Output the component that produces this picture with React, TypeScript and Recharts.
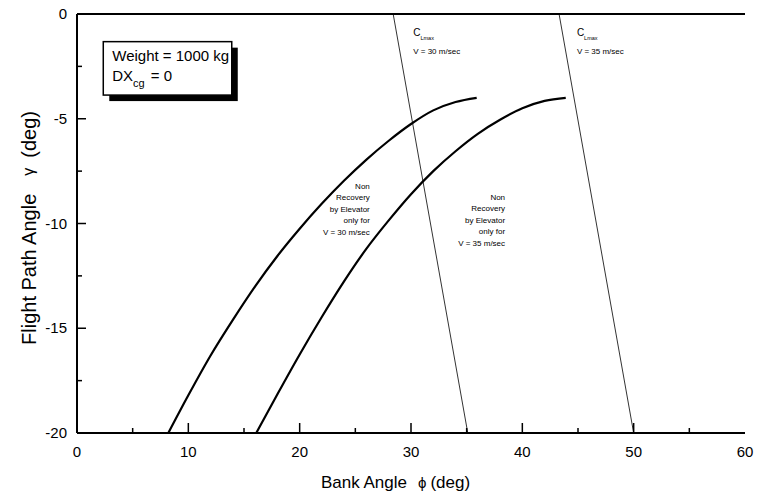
import React from "react";
import { ComposedChart, Line, XAxis, YAxis, ReferenceArea, ReferenceDot } from "recharts";

const FONT = '"Liberation Sans", Arial, Helvetica, sans-serif';

// bank angle ticks (deg); labels only on the tens
const bankTicks = [0, 5, 10, 15, 20, 25, 30, 35, 40, 45, 50, 55, 60];
// flight path angle ticks (deg); labels only on multiples of 5
const gammaTicks = [-20, -17.5, -15, -12.5, -10, -7.5, -5, -2.5, 0];

// non recovery boundary, V = 30 m/sec
const bankV30 = [8.2, 10, 12, 14, 16, 18, 20, 22, 24, 26, 28, 30, 32, 34, 35.9];
const gammaV30 = [-20, -18.2, -16.3, -14.6, -13.0, -11.55, -10.25, -9.05, -7.95, -6.95, -6.05, -5.25, -4.6, -4.2, -4.0];

// non recovery boundary, V = 35 m/sec
const bankV35 = [16.1, 18, 20, 22, 24, 26, 28, 30, 32, 34, 36, 38, 40, 42, 43.9];
const gammaV35 = [-20, -18.15, -16.25, -14.45, -12.75, -11.2, -9.85, -8.6, -7.5, -6.55, -5.72, -5.05, -4.5, -4.15, -4.0];

// CLmax limit lines
const clmaxBankV30 = [28.4, 35.1];
const clmaxBankV35 = [43.3, 50.0];
const clmaxGamma = [0, -20];

const noteV30 = ["Non", "Recovery", "by Elevator", "only for", "V = 30 m/sec"];
const noteV35 = ["Non", "Recovery", "by Elevator", "only for", "V = 35 m/sec"];

const toPts = (xs: number[], ys: number[]) => xs.map((x, i) => ({ bank: x, gamma: ys[i] }));

const curve30 = toPts(bankV30, gammaV30);
const curve35 = toPts(bankV35, gammaV35);
const limit30 = toPts(clmaxBankV30, clmaxGamma);
const limit35 = toPts(clmaxBankV35, clmaxGamma);

// ticks point into the plot, like the original
const BottomTick = (props: any) => {
  const { x, y, payload } = props;
  const major = payload.value % 10 === 0;
  const len = major ? 10 : 5;
  return (
    <g>
      {payload.value !== 0 && payload.value !== 60 && (
        <rect x={x - 0.75} y={y - len} width={1.5} height={len} fill="#000" />
      )}
      {major && (
        <text x={x} y={y + 24} textAnchor="middle" fontSize={15} fontFamily={FONT} fill="#000">
          {payload.value}
        </text>
      )}
    </g>
  );
};

const TopTick = (props: any) => {
  const { x, y, payload } = props;
  const major = payload.value % 10 === 0;
  const len = major ? 9 : 5;
  if (payload.value === 0 || payload.value === 60) return <g />;
  return <rect x={x - 0.75} y={y} width={1.5} height={len} fill="#000" />;
};

const LeftTick = (props: any) => {
  const { x, y, payload } = props;
  const major = payload.value % 5 === 0;
  const len = major ? 9 : 5;
  return (
    <g>
      {payload.value !== 0 && payload.value !== -20 && (
        <rect x={x} y={y - 0.75} width={len} height={1.5} fill="#000" />
      )}
      {major && (
        <text x={x - 10} y={y + 5} textAnchor="end" fontSize={15} fontFamily={FONT} fill="#000">
          {payload.value}
        </text>
      )}
    </g>
  );
};

const LegendBox = (props: any) => {
  const { x, y, width, height } = props;
  return (
    <g fontFamily={FONT} fill="#000">
      <rect x={x + 6} y={y + 6} width={width} height={height} fill="#000" />
      <rect x={x} y={y} width={width} height={height} fill="#fff" stroke="#000" strokeWidth={1.5} />
      <text x={x + 9} y={y + 19} fontSize={15}>Weight = 1000 kg</text>
      <text x={x + 9} y={y + 39} fontSize={15}>
        DX
        <tspan fontSize={11} dy={6}>cg</tspan>
        <tspan dy={-6} dx={6}>= 0</tspan>
      </text>
    </g>
  );
};

const noteShape = (lines: string[]) => (props: any) => {
  const { cx, cy } = props;
  return (
    <g>
      {lines.map((t, i) => (
        <text key={i} x={cx} y={cy + 3 + i * 11.5} textAnchor="end" fontSize={8} fontFamily={FONT} fill="#000">
          {t}
        </text>
      ))}
    </g>
  );
};

const clmaxShape = (speed: string) => (props: any) => {
  const { cx, cy } = props;
  return (
    <g fontFamily={FONT} fill="#000">
      <text x={cx} y={cy + 3} fontSize={10}>
        C<tspan fontSize={5.5} dy={4}>Lmax</tspan>
      </text>
      <text x={cx} y={cy + 21} fontSize={8}>{`V = ${speed} m/sec`}</text>
    </g>
  );
};

const XTitle = (props: any) => {
  const vb = props.viewBox || { x: 77, y: 433 };
  return (
    <text x={vb.x + 244} y={vb.y + 55} fontSize={17} fontFamily={FONT} fill="#000">
      Bank Angle
      <tspan dx={11} fontSize={15}>ϕ</tspan>
      <tspan dx={4}>(deg)</tspan>
    </text>
  );
};

const YTitle = () => (
  <text x={36} y={228} transform="rotate(-90 36 228)" textAnchor="middle" fontSize={20} fontFamily={FONT} fill="#000">
    Flight Path Angle
    <tspan dx={18} fontSize={16} dy={-2}>γ</tspan>
    <tspan dx={10} dy={2}>(deg)</tspan>
  </text>
);

export default function App() {
  return (
    <div style={{ position: "absolute", left: 0, top: 0, width: 760, height: 497, background: "#fff" }}>
      <ComposedChart width={760} height={497} margin={{ top: 13, right: 15, bottom: 0, left: 0 }}>
        <XAxis
          type="number"
          dataKey="bank"
          domain={[0, 60]}
          ticks={bankTicks}
          interval={0}
          allowDataOverflow
          height={64}
          tickSize={0}
          tickMargin={0}
          tick={<BottomTick />}
          axisLine={{ stroke: "#000", strokeWidth: 2 }}
          label={{ content: <XTitle /> }}
        />
        <XAxis
          xAxisId="top"
          orientation="top"
          type="number"
          domain={[0, 60]}
          ticks={bankTicks}
          interval={0}
          allowDataOverflow
          height={1}
          tickSize={0}
          tickMargin={0}
          tick={<TopTick />}
          axisLine={{ stroke: "#000", strokeWidth: 2 }}
        />
        <YAxis
          type="number"
          domain={[-20, 0]}
          ticks={gammaTicks}
          interval={0}
          allowDataOverflow
          width={77}
          tickSize={0}
          tickMargin={0}
          tick={<LeftTick />}
          axisLine={{ stroke: "#000", strokeWidth: 2 }}
          label={{ content: <YTitle /> }}
        />
        <YAxis
          yAxisId="right"
          orientation="right"
          type="number"
          domain={[-20, 0]}
          width={0}
          tick={false}
          tickLine={false}
          axisLine={{ stroke: "#000", strokeWidth: 2 }}
        />
        <ReferenceArea x1={2.36} x2={13.9} y1={-1.32} y2={-3.87} shape={LegendBox} />
        <Line data={limit30} dataKey="gamma" type="linear" stroke="#333" strokeWidth={1} dot={false} isAnimationActive={false} />
        <Line data={limit35} dataKey="gamma" type="linear" stroke="#333" strokeWidth={1} dot={false} isAnimationActive={false} />
        <Line data={curve30} dataKey="gamma" type="monotone" stroke="#000" strokeWidth={2.2} dot={false} isAnimationActive={false} />
        <Line data={curve35} dataKey="gamma" type="monotone" stroke="#000" strokeWidth={2.2} dot={false} isAnimationActive={false} />
        <ReferenceDot x={26.3} y={-8.2} r={1} shape={noteShape(noteV30)} />
        <ReferenceDot x={38.45} y={-8.73} r={1} shape={noteShape(noteV35)} />
        <ReferenceDot x={30.2} y={-0.9} r={1} shape={clmaxShape("30")} />
        <ReferenceDot x={44.9} y={-0.9} r={1} shape={clmaxShape("35")} />
      </ComposedChart>
    </div>
  );
}
